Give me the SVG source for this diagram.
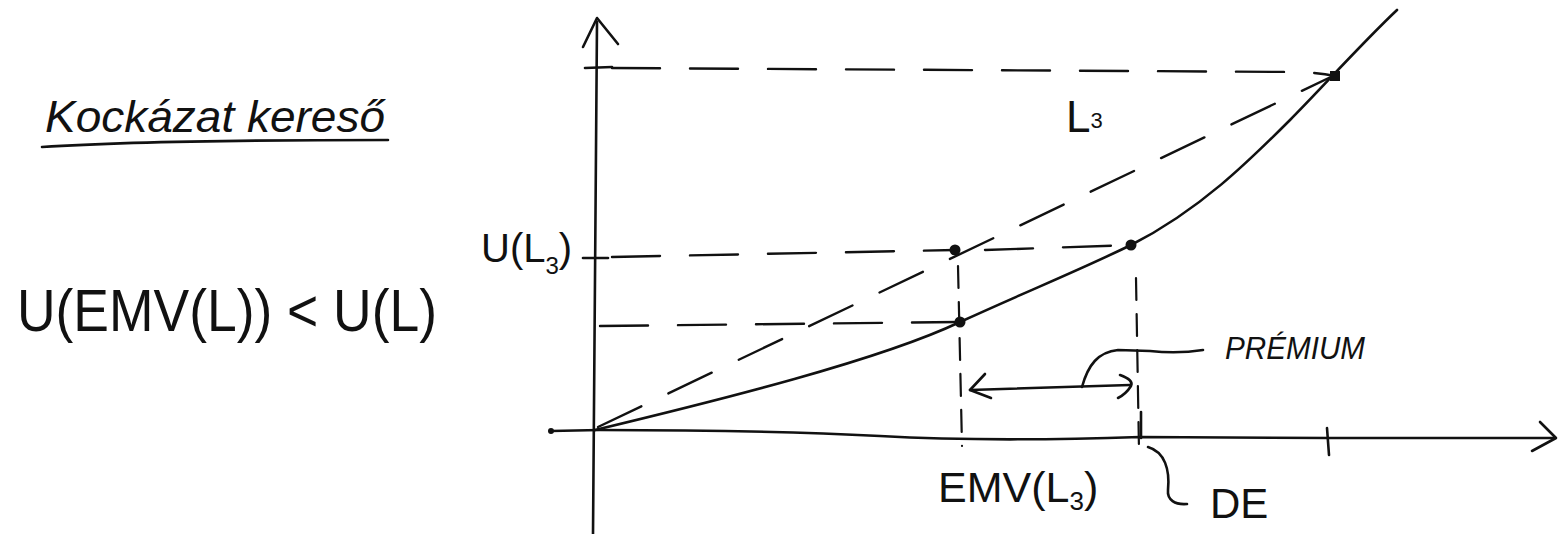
<svg xmlns="http://www.w3.org/2000/svg" width="1566" height="534" viewBox="0 0 1566 534">
<defs>
<style>
.ln{fill:none;stroke:#111;stroke-width:2.6;stroke-linecap:round;stroke-linejoin:round}
.ds{fill:none;stroke:#111;stroke-width:2.4;stroke-linecap:round;stroke-dasharray:48 30}
.dv{fill:none;stroke:#111;stroke-width:2.2;stroke-linecap:round;stroke-dasharray:22 14}
.pt{fill:#111}
.t{font-family:"Liberation Sans","DejaVu Sans",sans-serif;fill:#111}
.hw{font-family:"Liberation Sans","DejaVu Sans",sans-serif;fill:#111;font-style:italic}
</style>
</defs>
<rect width="1566" height="534" fill="#fff"/>
<g id="connectors">
<path class="ln" d="M597,22 L593,534"/>
<path class="ln" d="M583,47 L597,18 L618,44"/>
<path class="ln" d="M585,68 L612,67"/>
<path class="ln" d="M583,258 L608,258"/>
<path class="ln" d="M551,431 L600,430 C700,430 800,432 880,436 C950,440 1050,440 1140,437 L1330,438 L1554,438"/>
<path class="ln" d="M1540,422 L1556,438 L1532,451"/>
<path class="ln" d="M1141,412 L1141,438"/>
<path class="ln" d="M1327,428 L1329,455"/>
<circle class="pt" cx="551" cy="431" r="3"/>
<path class="ln" d="M595,430 C720,400 880,360 960,322 C1030,290 1080,270 1131,245 C1200,210 1250,160 1290,120 C1320,90 1360,45 1397,10"/>
<path class="ds" d="M598,427 L1335,75"/>
<path class="ds" d="M612,68 L1300,72 Q1320,73 1335,76"/>
<path class="ds" d="M612,257 L955,250 M985,250 L1131,245"/>
<path class="ds" d="M600,326 L958,322"/>
<path class="dv" d="M958,266 L962,446"/>
<path class="dv" d="M1136,278 L1139,450"/>
<path class="ln" d="M970,390 L1130,385"/>
<path class="ln" d="M985,374 L970,390 L991,398"/>
<path class="ln" d="M1120,375 Q1134,380 1131,386 Q1126,394 1118,398"/>
<path class="ln" d="M1082,387 C1088,365 1098,352 1118,350 L1150,351 C1170,353 1190,352 1203,350"/>
<path class="ln" d="M1148,447 C1165,452 1170,470 1168,490 C1167,500 1175,505 1187,504"/>
</g>
<g id="points">
<circle class="pt" cx="955" cy="250" r="5.5"/>
<circle class="pt" cx="960" cy="322" r="5.5"/>
<circle class="pt" cx="1131" cy="245" r="5.5"/>
<rect class="pt" x="1330" y="71" width="10" height="10"/>
</g>
<g id="title">
<text class="hw" x="45" y="132" font-size="44" textLength="340" lengthAdjust="spacingAndGlyphs">Kockázat kereső</text>
<path class="ln" d="M42,147 C150,140 300,140 388,140"/>
</g>
<g id="inequality">
<text class="t" x="17" y="331" font-size="60" textLength="420" lengthAdjust="spacingAndGlyphs">U(EMV(L)) &lt; U(L)</text>
</g>
<g id="label-UL3">
<text class="t" x="481" y="262" font-size="40">U(L<tspan font-size="24" dy="12">3</tspan><tspan dy="-12">)</tspan></text>
</g>
<g id="label-L3">
<text class="t" x="1066" y="132" font-size="44">L<tspan font-size="22" dy="-4">3</tspan></text>
</g>
<g id="label-EMV">
<text class="t" x="938" y="502" font-size="43">EMV(L<tspan font-size="26" dy="8">3</tspan><tspan dy="-8">)</tspan></text>
</g>
<g id="label-DE">
<text class="t" x="1210" y="518" font-size="42">DE</text>
</g>
<g id="label-premium">
<text class="hw" x="1225" y="359" font-size="32" textLength="140" lengthAdjust="spacingAndGlyphs">PRÉMIUM</text>
</g>
</svg>
